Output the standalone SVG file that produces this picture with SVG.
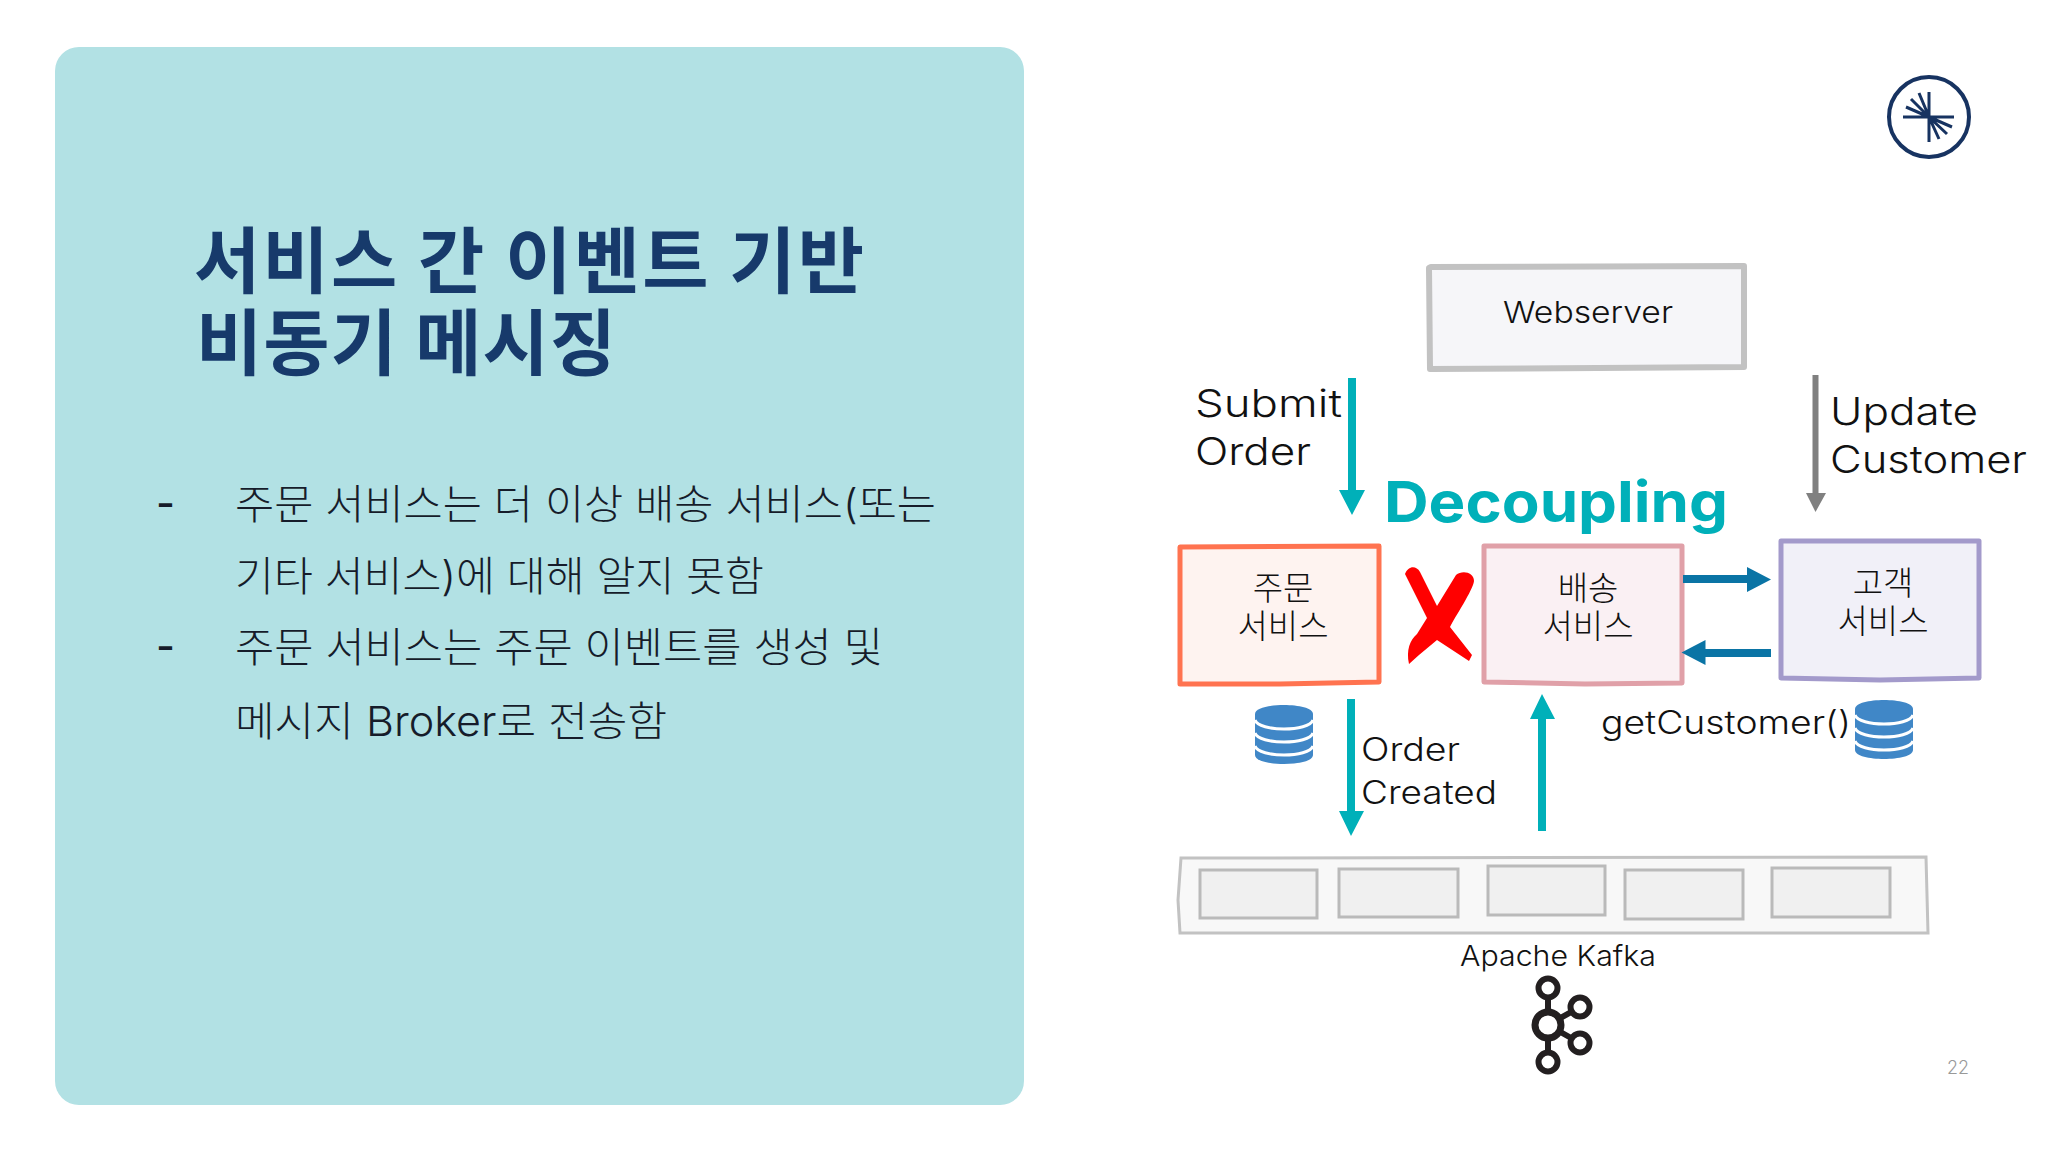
<svg xmlns="http://www.w3.org/2000/svg" width="2048" height="1152" viewBox="0 0 2048 1152">
<defs>
<g id="db"><path d="M0 9C0 -3 58 -3 58 9V50C58 62 0 62 0 50Z" fill="#4087c7"/><path d="M0 15C4 27 54 27 58 15M0 28C4 40 54 40 58 28M0 41C4 53 54 53 58 41" fill="none" stroke="#fff" stroke-width="3"/></g>
</defs>
<style>
text{font-family:"Inter","Noto Sans CJK KR",sans-serif;fill:#111;font-weight:300}
.title{font-family:"Noto Sans CJK KR",sans-serif;font-weight:700;font-size:72px;fill:#173a6b}
.body{font-size:41px;font-weight:300;fill:#161c2a}
.dash{font-size:41px;font-weight:500;fill:#161c2a}
.lbl{font-size:38px}
.sm{font-size:32px}
.svc{font-family:"Noto Sans CJK KR",sans-serif;font-size:33px;text-anchor:middle;font-weight:300}
.box{stroke-width:5;stroke-linejoin:round}
.cell{fill:#f0f0f0;stroke:#bababa;stroke-width:3}
.teal{fill:#00b0b9}
.blue{fill:#0a74a5}
.ring{fill:#fff;stroke:#231f20;stroke-width:6}
</style>
<rect width="2048" height="1152" fill="#fff"/>
<g id="panel"><rect x="55" y="47" width="969" height="1058" rx="24" fill="#b2e1e4"/>
<text class="title" x="194" y="287" textLength="670" lengthAdjust="spacing">서비스 간 이벤트 기반</text>
<text class="title" x="196" y="369" textLength="420" lengthAdjust="spacing">비동기 메시징</text>
<text class="dash" x="156" y="518">-</text>
<text class="body" x="235" y="519" textLength="701" lengthAdjust="spacingAndGlyphs">주문 서비스는 더 이상 배송 서비스(또는</text>
<text class="body" x="235" y="591" textLength="529" lengthAdjust="spacingAndGlyphs">기타 서비스)에 대해 알지 못함</text>
<text class="dash" x="156" y="661">-</text>
<text class="body" x="235" y="662" textLength="648" lengthAdjust="spacingAndGlyphs">주문 서비스는 주문 이벤트를 생성 및</text>
<text class="body" x="235" y="736" textLength="432" lengthAdjust="spacingAndGlyphs">메시지 Broker로 전송함</text>
</g>
<g id="logo" fill="none" stroke="#173361">
<circle cx="1929" cy="117" r="40" stroke-width="4"/>
<path d="M1903 117H1954M1929 92V142M1929 117L1919 93M1929 117L1911 99M1929 117L1906 107M1929 117L1939 139M1929 117L1947 134M1929 117L1952 127" stroke-width="3"/>
</g>
<g id="webserver"><path class="box" d="M1431 267L1744 266L1744 367L1430 369L1429 268Z" fill="#f6f6f9" stroke="#c2c2c2" style="stroke-width:6"/>
<text x="1588" y="323" text-anchor="middle" font-size="30" textLength="170" lengthAdjust="spacingAndGlyphs">Webserver</text></g>
<g id="order-service"><path class="box" d="M1180 547L1379 546V682L1280 684L1180 684Z" fill="#fef3f0" stroke="#ff7350"/>
<text class="svc" x="1283" y="600">주문</text><text class="svc" x="1283" y="638">서비스</text></g>
<g id="shipping-service"><path class="box" d="M1484 546L1682 546V683L1585 684L1484 682Z" fill="#faf0f3" stroke="#e0a0a8"/>
<text class="svc" x="1588" y="600">배송</text><text class="svc" x="1588" y="638">서비스</text></g>
<g id="customer-service"><path class="box" d="M1781 541L1979 541V678L1880 680L1781 678Z" fill="#f1f0f8" stroke="#a39acb"/>
<text class="svc" x="1883" y="595">고객</text><text class="svc" x="1883" y="633">서비스</text></g>
<g id="kafka"><path d="M1181 858L1926 857L1928 933L1180 933L1178 900Z" fill="#f8f8f8" stroke="#c2c2c2" stroke-width="3"/>
<rect class="cell" x="1200" y="870" width="117" height="48"/><rect class="cell" x="1339" y="869" width="119" height="48"/><rect class="cell" x="1488" y="866" width="117" height="49"/><rect class="cell" x="1625" y="870" width="118" height="49"/><rect class="cell" x="1772" y="868" width="118" height="49"/>
<text x="1460" y="966" font-size="28" textLength="196" lengthAdjust="spacingAndGlyphs">Apache Kafka</text>
<path d="M1548 988V1062M1548 1025L1580 1007M1548 1025L1580 1043" stroke="#231f20" stroke-width="6" fill="none"/>
<circle cx="1548" cy="1025" r="13" class="ring" style="stroke-width:7"/>
<circle cx="1548" cy="988" r="9.500" class="ring"/><circle cx="1580" cy="1007" r="9.500" class="ring"/><circle cx="1580" cy="1043" r="9.500" class="ring"/><circle cx="1548" cy="1062" r="9.500" class="ring"/>
</g>
<g id="db-order"><use href="#db" x="1255" y="705"/></g>
<g id="db-customer"><use href="#db" x="1855" y="700"/></g>
<g id="connectors">
<path class="teal" d="M1348 378H1356V490H1365L1352 515L1339 490H1348Z"/>
<path fill="#808080" d="M1812.500 375H1818.500V493H1826L1815.500 512L1806 493H1812.500Z"/>
<path class="blue" d="M1683 575H1747V567L1771 579.500L1747 592V583H1683Z"/>
<path class="blue" d="M1771 649H1705.500V640L1681.500 652.500L1705.500 665V657H1771Z"/>
<path class="teal" d="M1347 699H1355V811H1364L1351 836L1339 811H1347Z"/>
<path class="teal" d="M1538 831H1546V719H1555L1542 694L1530 719H1538Z"/>
<path id="red-x" fill="#f00" d="M1405 574C1408 566 1416 565 1420 572L1437 606L1456 575C1462 570 1474 572 1474 581C1473 590 1455 617 1450 627L1472 655L1469 661L1437 640L1419 655L1409 664C1406 650 1410 640 1417 634L1427 618Z"/>
</g>
<g id="labels">
<text class="lbl" x="1195" y="417" textLength="147" lengthAdjust="spacingAndGlyphs">Submit</text>
<text class="lbl" x="1195" y="465" textLength="116" lengthAdjust="spacingAndGlyphs">Order</text>
<text class="lbl" x="1830" y="425" textLength="148" lengthAdjust="spacingAndGlyphs">Update</text>
<text class="lbl" x="1830" y="473" textLength="197" lengthAdjust="spacingAndGlyphs">Customer</text>
<text x="1384" y="522" font-size="56" style="font-weight:700;fill:#00b0b9" textLength="344" lengthAdjust="spacingAndGlyphs">Decoupling</text>
<text class="sm" x="1361" y="761" textLength="99" lengthAdjust="spacingAndGlyphs">Order</text>
<text class="sm" x="1361" y="804" textLength="136" lengthAdjust="spacingAndGlyphs">Created</text>
<text class="sm" x="1601" y="734" textLength="250" lengthAdjust="spacingAndGlyphs">getCustomer()</text>
<text x="1947" y="1074" font-size="18" style="fill:#999" textLength="22" lengthAdjust="spacingAndGlyphs">22</text>
</g>
</svg>
